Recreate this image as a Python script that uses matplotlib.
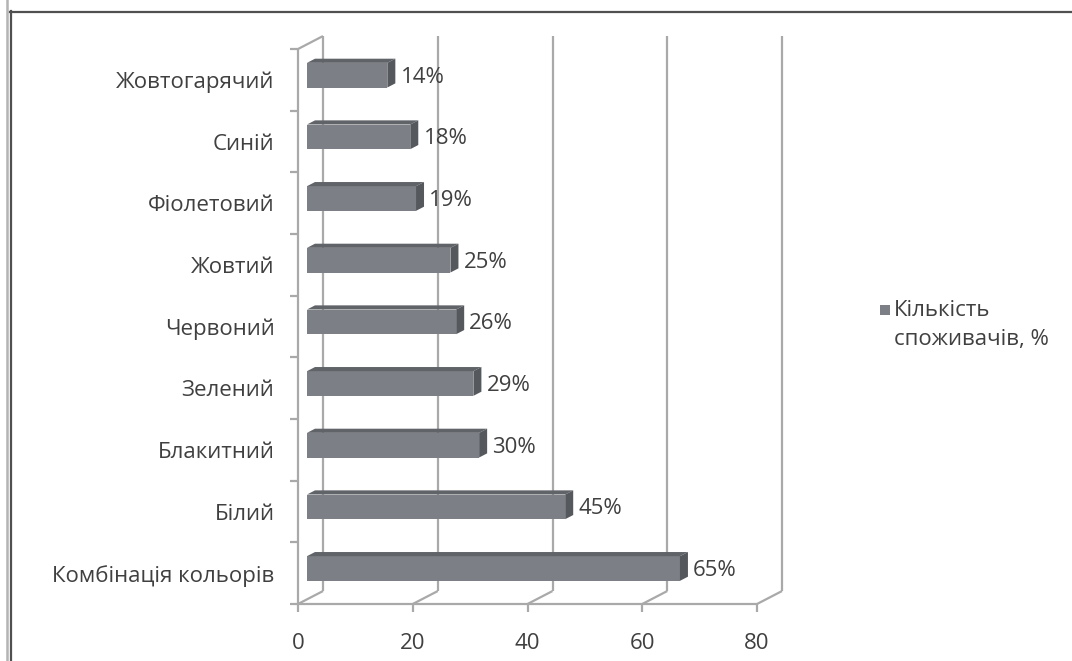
import matplotlib
matplotlib.use("Agg")
import matplotlib.pyplot as plt
from matplotlib.patches import Polygon, Rectangle
from matplotlib.lines import Line2D

# Consumer colour preferences, bottom to top
categories = ["Комбінація кольорів", "Білий", "Блакитний", "Зелений",
              "Червоний", "Жовтий", "Фіолетовий", "Синій", "Жовтогарячий"]
values = [65, 45, 30, 29, 26, 25, 19, 18, 14]
x_ticks = [0, 20, 40, 60, 80]
series_name = "Кількість\nспоживачів, %"

plt.rcParams['font.family'] = ['Open Sans', 'DejaVu Sans']
FS = 16
TXT = '#404040'
GRID = '#a9a9a9'
FRONT = '#7c7f85'
TOP = '#606368'
SIDE = '#55585d'

W, H = 1072, 661
fig = plt.figure(figsize=(W / 100, H / 100), dpi=100)
ax = fig.add_axes([298 / W, 57 / H, 459 / W, 555 / H])
n = len(categories)
ax.set_xlim(x_ticks[0], x_ticks[-1])
ax.set_ylim(-0.5, n - 0.5)
for s in ax.spines.values():
    s.set_visible(False)

# oblique depth direction expressed in data units (x values, category rows)
DX, DY = 4.36, 0.21


def proj(x, y, t):
    return (x + t * DX, y + t * DY)


def seg(p, q, **kw):
    ax.add_line(Line2D([p[0], q[0]], [p[1], q[1]], color=GRID, lw=1.6,
                       clip_on=False, solid_capstyle='butt', **kw))


ylo, yhi = -0.5, n - 0.5
# back wall gridlines and floor diagonals
for v in x_ticks:
    seg(proj(v, ylo, 1), proj(v, yhi, 1), zorder=1)
    seg(proj(v, ylo, 0), proj(v, ylo, 1), zorder=1)
# left wall
seg(proj(0, ylo, 0), proj(0, yhi, 0), zorder=1)
seg(proj(0, yhi, 0), proj(0, yhi, 1), zorder=1)
# floor front edge
seg(proj(x_ticks[0], ylo, 0), proj(x_ticks[-1], ylo, 0), zorder=1)

# bars as oblique boxes
h = 0.4
f, b = 0.36, 0.68
for i, v in enumerate(values):
    y0, y1 = i - h / 2, i + h / 2
    fx, fy = proj(0, y0, f)
    ax.add_patch(Rectangle((fx, fy), v, h, facecolor=FRONT, edgecolor='none',
                           clip_on=False, zorder=3))
    ax.add_patch(Polygon([proj(0, y1, f), proj(v, y1, f), proj(v, y1, b), proj(0, y1, b)],
                         closed=True, facecolor=TOP, edgecolor='none',
                         clip_on=False, zorder=3))
    ax.add_patch(Polygon([proj(v, y0, f), proj(v, y1, f), proj(v, y1, b), proj(v, y0, b)],
                         closed=True, facecolor=SIDE, edgecolor='none',
                         clip_on=False, zorder=3))
    ax.text(v + b * DX + 0.9, i + f * DY - 0.03, f"{v}%", fontsize=FS, color=TXT,
            ha='left', va='center', zorder=4)

# ticks and labels
ax.set_xticks(x_ticks)
ax.set_xticklabels([str(t) for t in x_ticks])
ax.tick_params(axis='x', length=6, width=1.6, color=GRID, pad=15,
               labelsize=FS, labelcolor=TXT)
ax.set_yticks(range(n))
ax.set_yticklabels(categories)
ax.tick_params(axis='y', which='major', length=0, pad=17, labelsize=FS, labelcolor=TXT)
ax.set_yticks([k - 0.5 for k in range(n + 1)], minor=True)
ax.tick_params(axis='y', which='minor', length=6, width=1.6, color=GRID)

# series key
fig.add_artist(Rectangle((880 / W, 1 - 315 / H), 10 / W, 10 / H, transform=fig.transFigure,
                         facecolor=FRONT, edgecolor='none'))
for k, line in enumerate(series_name.split("\n")):
    fig.text(894 / W, 1 - (311 + 28 * k) / H, line, fontsize=FS, color=TXT,
             ha='left', va='center', transform=fig.transFigure)

# frame lines
fig.add_artist(Line2D([7 / W, 7 / W], [0, 1], color='#b4b4b4', lw=1.8, transform=fig.transFigure))
fig.add_artist(Line2D([10.5 / W, 10.5 / W], [0, 1 - 11 / H], color='#505050', lw=1.6,
                      transform=fig.transFigure))
fig.add_artist(Line2D([10 / W, 1], [1 - 11.5 / H, 1 - 11.5 / H], color='#505050', lw=1.6,
                      transform=fig.transFigure))

fig.savefig("out.png", dpi=100)
